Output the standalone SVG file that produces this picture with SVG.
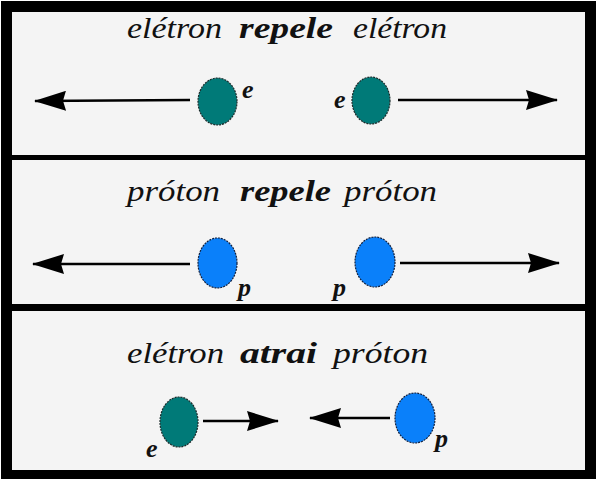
<svg xmlns="http://www.w3.org/2000/svg" width="597" height="480" viewBox="0 0 597 480">
<defs>
<style>
.panel{fill:#f4f4f4}
.w{font-family:"Liberation Serif","DejaVu Serif",serif;font-style:italic;font-size:30px;fill:#111}
.b{font-weight:bold}
.lbl{font-family:"Liberation Serif","DejaVu Serif",serif;font-style:italic;font-weight:bold;font-size:26px;fill:#111}
.el{fill:#007a78;stroke:#1b2b2b;stroke-width:1.2;stroke-dasharray:2 1}
.pr{fill:#0a80fa;stroke:#102040;stroke-width:1.2;stroke-dasharray:2 1}
.ar{stroke:#000;stroke-width:2.6;fill:none;marker-end:url(#ah)}
</style>
<marker id="ah" viewBox="0 0 32 20" refX="31" refY="10" markerWidth="32" markerHeight="20" markerUnits="userSpaceOnUse" orient="auto">
<path d="M0,0 L32,10 L0,20 L3,10 Z" fill="#000"/>
</marker>
</defs>
<rect x="1" y="1" width="595" height="478" fill="#000"/>
<rect class="panel" x="12" y="12" width="573" height="143"/>
<rect class="panel" x="12" y="160" width="573" height="144"/>
<rect class="panel" x="12" y="311" width="573" height="159"/>

<g id="title1">
<text class="w" x="127" y="38" textLength="95" lengthAdjust="spacingAndGlyphs">elétron</text>
<text class="w b" x="239" y="38" textLength="94" lengthAdjust="spacingAndGlyphs">repele</text>
<text class="w" x="353" y="38" textLength="94" lengthAdjust="spacingAndGlyphs">elétron</text>
</g>
<g id="title2">
<text class="w" x="127" y="201" textLength="93" lengthAdjust="spacingAndGlyphs">próton</text>
<text class="w b" x="240" y="201" textLength="91" lengthAdjust="spacingAndGlyphs">repele</text>
<text class="w" x="344" y="201" textLength="93" lengthAdjust="spacingAndGlyphs">próton</text>
</g>
<g id="title3">
<text class="w" x="127" y="363" textLength="97" lengthAdjust="spacingAndGlyphs">elétron</text>
<text class="w b" x="240" y="363" textLength="77" lengthAdjust="spacingAndGlyphs">atrai</text>
<text class="w" x="333" y="363" textLength="95" lengthAdjust="spacingAndGlyphs">próton</text>
</g>

<g id="connectors">
<line class="ar" x1="190" y1="100" x2="35" y2="101"/>
<line class="ar" x1="398" y1="100" x2="557" y2="100"/>
<line class="ar" x1="190" y1="264" x2="33" y2="264"/>
<line class="ar" x1="400" y1="263" x2="559" y2="263"/>
<line class="ar" x1="203" y1="421" x2="278" y2="421"/>
<line class="ar" x1="390" y1="418" x2="310" y2="418"/>
</g>

<g id="electron1">
<ellipse class="el" cx="217.5" cy="101.5" rx="19.5" ry="23.5"/>
<text class="lbl" x="242" y="98">e</text>
</g>
<g id="electron2">
<ellipse class="el" cx="371" cy="100.5" rx="19" ry="23.5"/>
<text class="lbl" x="334" y="108">e</text>
</g>
<g id="proton1">
<ellipse class="pr" cx="217.5" cy="263" rx="19.5" ry="25"/>
<text class="lbl" x="238" y="296">p</text>
</g>
<g id="proton2">
<ellipse class="pr" cx="375" cy="262" rx="20" ry="25"/>
<text class="lbl" x="333" y="296">p</text>
</g>
<g id="electron3">
<ellipse class="el" cx="179" cy="422" rx="19" ry="25"/>
<text class="lbl" x="146" y="457">e</text>
</g>
<g id="proton3">
<ellipse class="pr" cx="415" cy="418" rx="20" ry="25"/>
<text class="lbl" x="435" y="447">p</text>
</g>
</svg>
